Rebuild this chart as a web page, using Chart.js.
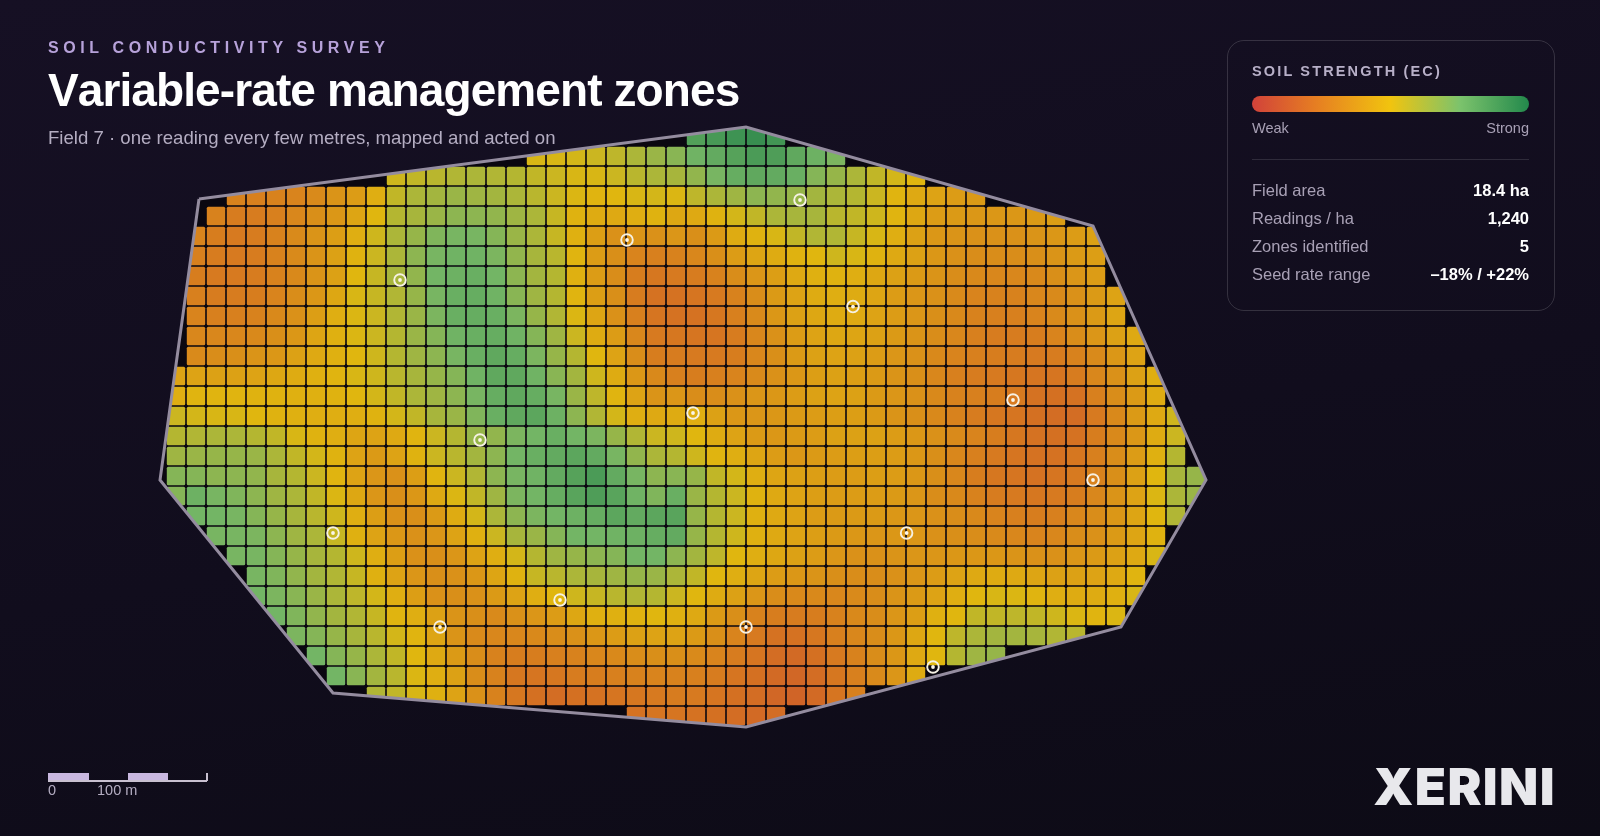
<!DOCTYPE html>
<html>
<head>
<meta charset="utf-8">
<title>Variable-rate management zones</title>
<script src="https://cdn.jsdelivr.net/npm/chart.js@4"></script>
<style>
html, body { margin: 0; padding: 0; width: 1600px; height: 836px; overflow: hidden; background: #0f0b19; }
body { position: relative; font-family: "Liberation Sans", sans-serif; background: linear-gradient(170deg, #161024 0%, #110d1d 55%, #0d0b16 100%); }
#map { position: absolute; left: 0; top: 0; display: block; }
.abs { position: absolute; white-space: nowrap; }
#eyebrow { left: 48px; top: 38px; font-size: 16px; line-height: 20px; font-weight: 700; letter-spacing: 4.6px; color: #b7a2da; }
#title { left: 48px; top: 62px; font-size: 46px; line-height: 56px; font-weight: 700; letter-spacing: -0.9px; font-kerning: none; color: #fff; }
#sub { left: 48px; top: 126px; font-size: 18.6px; line-height: 24px; color: #b4adc2; }
#panel { left: 1227px; top: 40px; width: 326px; height: 269px; border: 1px solid rgba(255,255,255,.15); border-radius: 17px; box-sizing: content-box; }
#panelTitle { left: 24px; top: 21px; font-size: 14.5px; line-height: 18px; font-weight: 700; letter-spacing: 2.15px; color: #b8b0c8; }
#ramp { position: absolute; left: 24px; top: 55px; width: 277px; height: 16px; border-radius: 8px; background: linear-gradient(90deg, #d1423a 0%, #e67e22 23%, #f1c40f 50%, #7cc36c 75%, #23894c 100%); }
#weak { left: 24px; top: 78px; font-size: 14.5px; line-height: 18px; color: #a8a0b5; }
#strong { right: 25px; top: 78px; font-size: 14.5px; line-height: 18px; color: #a8a0b5; }
#rule { position: absolute; left: 24px; top: 118px; width: 277px; height: 1px; background: rgba(255,255,255,.12); }
.statLabel { left: 24px; font-size: 16.5px; line-height: 20px; color: #a8a0b5; }
.statValue { right: 25px; font-size: 16.5px; line-height: 20px; font-weight: 700; color: #fff; }
.scaleFill { position: absolute; top: 773px; height: 8px; background: #c9b8e0; }
#scaleLine { left: 48px; top: 780px; width: 159px; height: 1.5px; background: #c8c0d0; }
#scaleTick { left: 206px; top: 773px; width: 1.5px; height: 8px; background: #c8c0d0; }
.scaleText { top: 781px; font-size: 14.5px; line-height: 18px; color: #b4adc2; }
#logo { right: 44px; top: 755px; font-family: Inter, sans-serif; font-size: 51px; line-height: 64px; font-weight: 900; letter-spacing: 1.4px; color: #e8e8ec; }
</style>
</head>
<body>
<canvas id="map" width="1600" height="836"></canvas>
<div class="abs" id="eyebrow">SOIL CONDUCTIVITY SURVEY</div>
<div class="abs" id="title">Variable-rate management zones</div>
<div class="abs" id="sub">Field 7 · one reading every few metres, mapped and acted on</div>
<div class="abs" id="panel">
  <div class="abs" id="panelTitle">SOIL STRENGTH (EC)</div>
  <div id="ramp"></div>
  <div class="abs" id="weak">Weak</div>
  <div class="abs" id="strong">Strong</div>
  <div id="rule"></div>
</div>
<div class="scaleFill" style="left:48px;width:41px"></div>
<div class="scaleFill" style="left:128px;width:40px"></div>
<div class="abs" id="scaleLine"></div>
<div class="abs" id="scaleTick"></div>
<div class="abs scaleText" style="left:48px">0</div>
<div class="abs scaleText" style="left:97px">100 m</div>
<div class="abs" id="logo">XERINI</div>

<script>
// first grid column that holds a reading, one entry per row
var rowStart = [26,18,11,3,2,1,1,1,1,1,1,1,0,0,0,0,0,0,0,1,2,3,4,4,5,6,7,8,10,23];

// soil strength per cell, 0 = weak, 100 = strong
var strength = [
  [85,88,91,93,90],
  [52,52,53,55,58,62,66,70,76,80,84,87,86,81,77,73],
  [54,57,59,61,62,61,60,57,55,52,52,55,59,62,63,68,74,79,81,80,78,71,67,62,57,53,50],
  [26,25,26,27,30,34,38,46,57,62,64,66,65,64,62,59,55,51,49,50,52,53,51,58,62,65,69,68,67,64,62,60,55,49,44,41,38,37],
  [26,23,23,25,28,32,36,42,50,60,63,66,69,69,68,65,62,56,48,45,44,46,48,43,44,48,53,57,62,63,63,59,57,54,49,43,38,37,36,36,36,37,39],
  [27,24,22,23,26,30,34,39,46,54,62,67,72,74,74,71,66,62,56,47,39,33,34,33,35,32,37,45,48,52,57,61,61,56,52,46,40,36,34,33,33,33,34,36,38,40],
  [25,23,22,23,26,30,34,40,48,55,62,69,74,76,76,73,68,63,59,49,38,32,27,25,26,28,32,38,42,45,48,50,54,52,48,44,40,36,33,31,31,31,32,34,37,39],
  [24,22,22,23,26,29,34,40,50,56,63,68,75,77,78,75,69,64,60,47,38,31,24,21,22,23,26,31,35,39,44,47,48,46,43,40,37,34,31,29,28,28,29,32,35,38],
  [25,23,23,24,27,31,36,43,52,56,61,67,74,78,79,76,70,65,60,49,39,32,23,19,19,20,22,26,31,37,41,45,46,45,42,38,35,33,30,27,26,26,28,30,33,37,41],
  [27,25,25,26,29,33,39,46,51,55,61,66,73,78,79,78,73,67,61,51,42,33,25,20,19,19,21,25,30,36,40,43,45,44,41,38,35,32,29,26,25,25,27,30,33,37,42],
  [28,28,28,29,32,36,42,47,51,55,60,66,71,76,78,79,76,71,65,55,45,38,28,22,21,20,20,23,28,33,38,41,43,42,40,37,34,31,28,25,23,23,24,27,31,35,40,44],
  [30,31,32,34,36,40,44,47,50,54,60,65,69,74,78,81,79,73,67,60,50,41,31,24,23,22,22,24,28,32,37,40,41,40,38,35,33,29,27,25,24,23,22,23,26,30,36,41],
  [41,41,40,40,41,43,45,47,49,52,54,59,63,67,71,76,81,81,76,70,64,54,45,36,29,25,24,25,27,30,33,36,39,40,39,37,34,32,28,25,23,22,21,20,20,23,28,33,40,46],
  [46,49,49,49,48,48,47,47,48,50,53,57,62,65,69,74,79,81,79,74,66,58,49,41,34,35,31,31,33,35,36,38,40,41,40,37,35,33,29,26,25,24,22,19,18,19,25,31,37,45],
  [55,53,52,52,50,48,47,46,46,46,48,53,57,63,66,72,78,81,82,77,69,61,53,46,44,45,46,40,36,35,36,37,38,39,39,37,34,32,29,26,23,21,20,18,17,17,22,29,37,44,54],
  [60,61,62,62,60,57,52,48,46,42,41,44,49,55,60,67,68,73,75,78,75,73,67,61,55,54,50,45,41,37,36,37,38,40,40,40,38,36,33,30,27,24,21,19,18,19,24,29,36,45,55],
  [65,66,67,67,66,62,57,53,48,41,37,41,48,55,59,64,69,75,78,80,82,80,74,68,62,60,54,49,46,42,38,36,37,38,39,39,38,36,32,28,25,22,20,19,19,21,25,31,38,47,60],
  [71,71,69,69,68,63,60,55,49,41,35,33,39,49,55,61,69,74,76,80,84,87,80,74,69,70,67,57,53,46,42,40,39,38,38,39,38,36,32,28,24,21,20,19,20,22,26,32,40,50,63,67],
  [71,77,74,72,69,65,62,57,51,43,35,32,36,44,51,57,65,73,75,79,83,86,83,76,72,78,66,60,55,48,44,41,39,38,38,38,37,35,31,29,26,23,22,21,22,24,28,34,41,51,62,66],
  [75,75,74,71,67,63,59,54,46,39,33,32,37,45,53,62,69,73,75,77,79,82,80,82,83,67,60,55,47,44,41,38,37,37,37,36,35,33,31,29,27,25,24,25,28,31,36,42,50,61],
  [74,74,73,69,65,62,56,47,41,36,33,35,41,47,55,63,66,71,75,75,76,77,79,80,67,60,54,47,44,41,39,37,36,35,36,35,33,32,31,30,28,27,28,31,33,37,42,48],
  [74,74,71,67,63,60,54,46,39,33,32,35,41,46,53,60,65,67,69,71,75,75,69,64,58,50,46,43,40,38,35,33,33,34,35,35,36,36,36,34,33,33,35,37,40,44,52],
  [74,72,68,64,61,56,47,41,35,32,33,36,42,48,56,59,62,63,65,67,66,62,57,50,46,42,38,36,34,32,31,31,33,35,38,41,44,45,44,42,40,40,41,44,49],
  [75,73,70,66,62,58,53,46,39,33,32,33,37,41,46,50,54,56,59,61,60,55,50,45,40,35,31,29,29,28,30,31,34,37,41,46,50,52,51,49,46,45,45,47,52],
  [75,72,68,64,61,56,49,46,40,34,32,30,33,35,38,43,47,47,48,50,47,44,37,32,26,24,23,24,26,29,31,35,39,47,50,57,57,58,57,54,51,49,51],
  [73,71,67,63,59,53,49,42,34,30,28,28,29,31,33,36,38,40,41,41,37,32,27,22,19,19,21,25,28,31,36,43,50,58,62,64,64,63,61,59],
  [75,71,67,62,57,50,44,37,31,26,24,24,25,26,28,29,31,32,32,30,27,23,20,17,16,18,22,26,31,36,44,50,60,65,67],
  [75,70,64,59,51,46,40,31,26,21,20,21,23,24,25,26,27,26,25,23,20,18,16,15,17,21,25,30,35,45],
  [61,57,52,47,41,33,26,21,18,17,18,19,20,21,22,23,22,20,18,17,15,14,16,20,25],
  [19,20,20,19,18,17,16,17]
];

// field boundary and probe sites, in grid columns / rows
var outlineCol = [1.15,28.5,45.85,51.5,47.25,28.5,7.85,-0.8,1.15];
var outlineRow = [3.15,-0.45,4.5,17.2,24.55,29.55,27.85,17.2,3.15];
var probeCol = [11.2,22.55,31.2,33.85,25.85,15.2,7.85,13.2,19.2,28.5,36.53,37.85,41.85,45.85];
var probeRow = [7.2,5.2,3.2,8.53,13.85,15.2,19.85,24.55,23.2,24.55,19.85,26.55,13.2,17.2];

var statLabels = ['Field area','Readings / ha','Zones identified','Seed rate range'];
var statValues = ['18.4 ha','1,240','5','–18% / +22%'];

// colour ramp for the cells
var rampStops = [0,20,50,75,100];
var rampColors = [[209,66,58],[230,126,34],[241,196,15],[124,195,108],[35,137,76]];

function rampColor(v) {
    var i = 0;
    while (i < rampStops.length - 2 && v > rampStops[i + 1]) i++;
    var t = (v - rampStops[i]) / (rampStops[i + 1] - rampStops[i]);
    var a = rampColors[i], b = rampColors[i + 1];
    return 'rgb(' + Math.round(a[0] + (b[0] - a[0]) * t) + ',' + Math.round(a[1] + (b[1] - a[1]) * t) + ',' + Math.round(a[2] + (b[2] - a[2]) * t) + ')';
}

// rounded cell drawn as a point style, cached per value
var sprites = {};
function cellSprite(v) {
    if (!sprites[v]) {
        var c = document.createElement('canvas');
        c.width = 20;
        c.height = 20;
        var g = c.getContext('2d');
        g.globalAlpha = 0.93;
        g.fillStyle = rampColor(v);
        g.beginPath();
        g.roundRect(0.8, 0.8, 18.4, 18.4, 1.5);
        g.fill();
        sprites[v] = c;
    }
    return sprites[v];
}

function toPoints(xs, ys) {
    return xs.map(function (x, i) { return { x: x, y: ys[i] }; });
}

var cells = [];
strength.forEach(function (row, r) {
    row.forEach(function (v, k) {
        cells.push({ x: rowStart[r] + k, y: r, v: v });
    });
});

// keep cells inside the field boundary
var clipToField = {
    id: 'clipToField',
    beforeDatasetDraw: function (chart, args) {
        if (chart.data.datasets[args.index].label !== 'Readings') return;
        var ctx = chart.ctx, sx = chart.scales.x, sy = chart.scales.y;
        ctx.save();
        ctx.beginPath();
        outlineCol.forEach(function (c, i) {
            ctx.lineTo(sx.getPixelForValue(c), sy.getPixelForValue(outlineRow[i]));
        });
        ctx.clip();
    },
    afterDatasetDraw: function (chart, args) {
        if (chart.data.datasets[args.index].label === 'Readings') chart.ctx.restore();
    }
};

new Chart(document.getElementById('map').getContext('2d'), {
    type: 'scatter',
    data: {
        datasets: [
            { label: 'Probe centres', data: toPoints(probeCol, probeRow), pointRadius: 1.9, pointBorderWidth: 0, pointBackgroundColor: '#fbf6ea' },
            { label: 'Probes', data: toPoints(probeCol, probeRow), pointRadius: 5.8, pointBorderWidth: 1.9, pointBorderColor: '#f6f1e4', pointBackgroundColor: 'rgba(0,0,0,0)' },
            { label: 'Boundary', data: toPoints(outlineCol, outlineRow), showLine: true, pointRadius: 0, borderColor: '#948c9f', borderWidth: 3, borderJoinStyle: 'miter', fill: false },
            { label: 'Readings', data: cells, pointRadius: 13, pointBorderWidth: 0, pointStyle: function (c) { return cellSprite(c.raw.v); } },
            { label: 'Ground', data: toPoints(outlineCol, outlineRow), showLine: true, pointRadius: 0, borderWidth: 0, backgroundColor: '#0a0710', fill: 'shape' }
        ]
    },
    options: {
        responsive: false,
        animation: false,
        events: [],
        layout: { padding: 0, autoPadding: false },
        plugins: { legend: { display: false }, tooltip: { enabled: false } },
        scales: {
            x: { type: 'linear', display: false, min: -8.8, max: 71.2 },
            y: { type: 'linear', display: false, min: -6.8, max: 35, reverse: true }
        }
    },
    plugins: [clipToField]
});

var panel = document.getElementById('panel');
statLabels.forEach(function (label, i) {
    var top = 139 + i * 28;
    var a = document.createElement('div');
    a.className = 'abs statLabel';
    a.style.top = top + 'px';
    a.textContent = label;
    panel.appendChild(a);
    var b = document.createElement('div');
    b.className = 'abs statValue';
    b.style.top = top + 'px';
    b.textContent = statValues[i];
    panel.appendChild(b);
});
</script>
</body>
</html>
